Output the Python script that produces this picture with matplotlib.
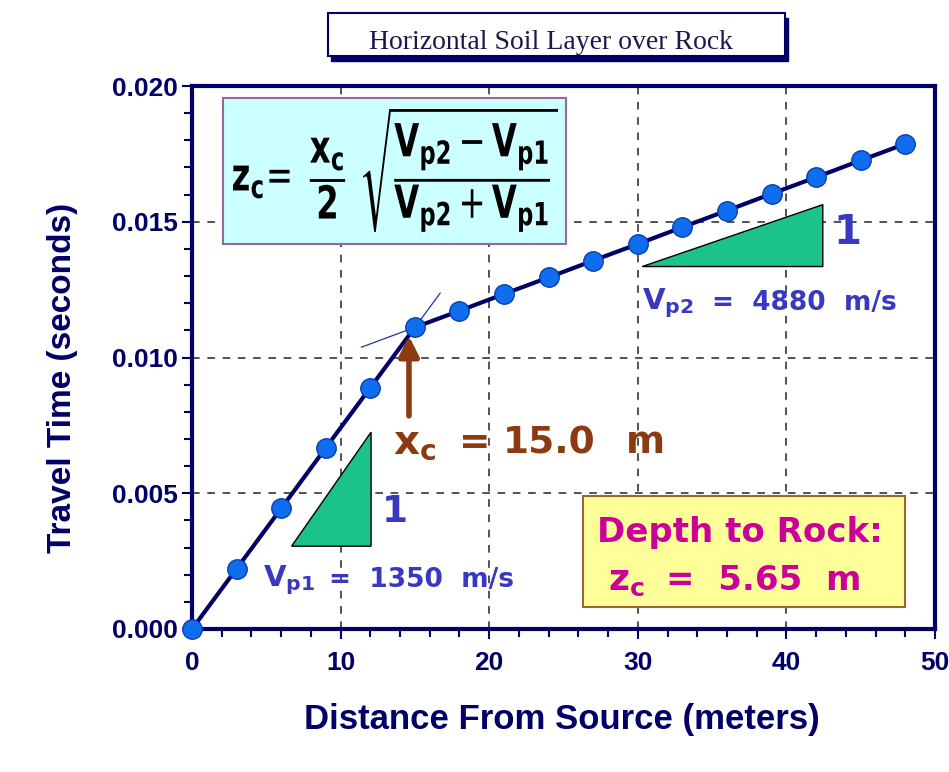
import matplotlib
matplotlib.use("Agg")
import matplotlib.pyplot as plt
from matplotlib.patches import Rectangle, Polygon, PathPatch
from matplotlib.textpath import TextPath
from matplotlib.font_manager import FontProperties
from matplotlib.transforms import Affine2D

# travel-time picks
distance = [0, 3, 6, 9, 12, 15, 18, 21, 24, 27, 30, 33, 36, 39, 42, 45, 48]
travel_time = [0.0, 0.00222, 0.00444, 0.00667, 0.00889, 0.01111, 0.01172,
               0.01234, 0.01295, 0.01357, 0.01418, 0.01480, 0.01541,
               0.01603, 0.01664, 0.01726, 0.01787]

# thin extension lines through the crossover point
ext_direct_x = [15, 16.7]
ext_direct_t = [0.01111, 0.01237]
ext_refr_x = [11.4, 15]
ext_refr_t = [0.01038, 0.01111]

# slope triangles
tri1_x = [6.7, 12.05, 12.05]
tri1_t = [0.00305, 0.00725, 0.00305]
tri2_x = [30.3, 42.45, 42.45]
tri2_t = [0.01335, 0.01563, 0.01335]

navy = "#000066"
blue_txt = "#3838C0"
brown = "#8B3A12"
magenta = "#CC0099"

fig = plt.figure(figsize=(9.49, 7.72), dpi=100)
fig.patch.set_facecolor("white")
ax = fig.add_axes([192/949, 1-629/772, 743/949, 543/772])

ax.set_xlim(0, 50)
ax.set_ylim(0, 0.020)

for s in ax.spines.values():
    s.set_color(navy)
    s.set_linewidth(3)

ax.set_xticks([0, 10, 20, 30, 40, 50])
ax.set_xticks(range(0, 51, 2), minor=True)
ax.set_yticks([0, 0.005, 0.010, 0.015, 0.020])
ax.set_yticklabels(["0.000", "0.005", "0.010", "0.015", "0.020"])
ax.set_yticks([i*0.001 for i in range(21)], minor=True)
ax.tick_params(which="major", direction="out", length=7, width=1.5, color=navy)
ax.tick_params(which="minor", direction="out", length=6, width=1.5, color=navy)
ax.tick_params(axis="y", pad=3)
ax.tick_params(axis="x", pad=9)
for lab in ax.get_xticklabels() + ax.get_yticklabels():
    lab.set_fontfamily("Liberation Sans")
    lab.set_fontweight("bold")
    lab.set_fontsize(19)
    lab.set_color(navy)

ax.grid(True, which="major", color="#222233", linestyle=(0, (5, 5)), linewidth=1.1)

ax.set_xlabel("Distance From Source (meters)", fontfamily="Liberation Sans",
              fontweight="bold", fontsize=25, color=navy)
ax.set_ylabel("Travel Time (seconds)", fontfamily="Liberation Sans",
              fontweight="bold", fontsize=24, color=navy)
ax.xaxis.set_label_coords(0.498, -0.137)
ax.yaxis.set_label_coords(-0.153, 0.462)

# green slope triangles
ax.add_patch(Polygon(list(zip(tri1_x, tri1_t)), closed=True, facecolor="#1BC28C",
                     edgecolor="black", linewidth=1, zorder=3))
ax.add_patch(Polygon(list(zip(tri2_x, tri2_t)), closed=True, facecolor="#1BC28C",
                     edgecolor="black", linewidth=1, zorder=3))

# data
ax.plot(ext_direct_x, ext_direct_t, color="#2233AA", linewidth=0.9, zorder=4)
ax.plot(ext_refr_x, ext_refr_t, color="#2233AA", linewidth=0.9, zorder=4)
ax.plot(distance, travel_time, color=navy, linewidth=3, zorder=5)
ax.plot(distance, travel_time, linestyle="none", marker="o", markersize=14,
        markerfacecolor="#0F6EF0", markeredgecolor="#0A3FB0", markeredgewidth=1,
        zorder=6, clip_on=False)

# crossover arrow and label
ax.annotate("", xy=(14.6, 0.01090), xytext=(14.6, 0.00775),
            arrowprops=dict(arrowstyle="-|>,head_width=0.6,head_length=1.2",
                            color=brown, linewidth=4), zorder=7)
ax.text(13.5, 0.00647, r"$\mathbf{x_c}$", fontsize=29, color=brown, zorder=7,
        va="baseline")
ax.text(18.0, 0.00647, "=", fontsize=27, color=brown, fontweight="bold",
        zorder=7, va="baseline")
ax.text(20.9, 0.00647, "15.0", fontsize=27, color=brown, fontweight="bold",
        zorder=7, va="baseline")
ax.text(29.2, 0.00647, "m", fontsize=27, color=brown, fontweight="bold",
        zorder=7, va="baseline")

# slope labels
ax.text(13.66, 0.00393, "1", fontsize=27, color=blue_txt, fontweight="bold",
        ha="center", va="baseline")
ax.text(44.08, 0.01419, "1", fontsize=29, color=blue_txt, fontweight="bold",
        ha="center", va="baseline")
ax.text(4.8, 0.0018, r"$\mathbf{V_{p1}}$", fontsize=21, color=blue_txt, va="center")
ax.text(9.2, 0.0018, "=  1350  m/s", fontsize=19, color=blue_txt, fontweight="bold", va="center")
ax.text(30.3, 0.0120, r"$\mathbf{V_{p2}}$", fontsize=21, color=blue_txt, va="center")
ax.text(35.0, 0.0120, "=  4880  m/s", fontsize=19, color=blue_txt, fontweight="bold", va="center")

# formula box
ax.add_patch(Rectangle((2.1, 0.01418), 23.1, 0.00538, facecolor="#CCFFFF",
                       edgecolor="#996699", linewidth=1.5, zorder=8))
formula = (r"$\mathbf{z_c}\!=\ \dfrac{\mathbf{x_c}}{\mathbf{2}}\ "
           r"\sqrt{\dfrac{\mathbf{V_{p2}} - \mathbf{V_{p1}}}"
           r"{\mathbf{V_{p2}} + \mathbf{V_{p1}}}}$")
tp = TextPath((0, 0), formula, size=30, prop=FontProperties(family="DejaVu Sans"))
ext = tp.get_extents()
# stretch the formula to fill its box (pixel coords, origin bottom-left)
fx0, fx1, fy0, fy1 = 233, 558, 772-232, 772-109
tr = (Affine2D().translate(-ext.x0, -ext.y0)
      .scale((fx1-fx0)/ext.width, (fy1-fy0)/ext.height)
      .translate(fx0, fy0))
fig.add_artist(PathPatch(tp, transform=tr, facecolor="black", edgecolor="none",
                         zorder=10))

# depth box
ax.add_patch(Rectangle((26.3, 0.00080), 21.7, 0.00410, facecolor="#FFFF99",
                       edgecolor="#996633", linewidth=1.5, zorder=8))
ax.text(27.25, 0.0032, "Depth to Rock:", fontsize=24.5, color=magenta,
        fontweight="bold", va="baseline", zorder=9)
ax.text(28.0, 0.00143, r"$\mathbf{z_c}$", fontsize=26, color=magenta,
        va="baseline", zorder=9)
ax.text(31.9, 0.00143, "=  5.65  m", fontsize=24.5, color=magenta,
        fontweight="bold", va="baseline", zorder=9)

# title box with shadow
fig.patches.append(Rectangle((331/949, 1-61/772), 457/949, 43/772,
                             transform=fig.transFigure, facecolor=navy,
                             edgecolor=navy, zorder=1))
fig.patches.append(Rectangle((328/949, 1-56/772), 457/949, 43/772,
                             transform=fig.transFigure, facecolor="white",
                             edgecolor=navy, linewidth=1.5, zorder=2))
fig.text(551/949, 1-49/772, "Horizontal Soil Layer over Rock",
         fontfamily="Liberation Serif", fontsize=20, color="#1A1A4A",
         ha="center", va="baseline", zorder=3)

fig.savefig("out.png", dpi=100)
